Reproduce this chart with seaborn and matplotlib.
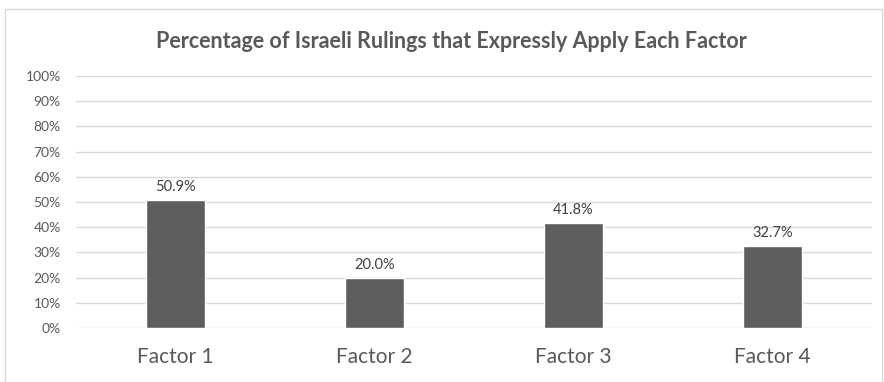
import matplotlib
matplotlib.use("Agg")
import matplotlib.pyplot as plt
from matplotlib.patches import Rectangle
from matplotlib.ticker import PercentFormatter
import seaborn as sns
import pandas as pd

factors = ["Factor 1", "Factor 2", "Factor 3", "Factor 4"]
percentages = [50.9, 20.0, 41.8, 32.7]
title = "Percentage of Israeli Rulings that Expressly Apply Each Factor"

sns.set_theme(style="white")
plt.rcParams["font.family"] = ["Lato", "DejaVu Sans"]

df = pd.DataFrame({"factor": factors, "pct": percentages})

fig = plt.figure(figsize=(8.84, 3.82), dpi=100)
ax = fig.add_axes([76 / 884, 54 / 382, (872 - 76) / 884, (328 - 76) / 382])

sns.barplot(data=df, x="factor", y="pct", color="#5e5e5e", width=0.3,
            saturation=1, ax=ax, zorder=3)

ax.set_ylim(0, 100)
ax.set_xlim(-0.5, 3.5)
ax.set_yticks(range(0, 101, 10))
ax.yaxis.set_major_formatter(PercentFormatter(decimals=0))
ax.grid(axis="y", color="#d9d9d9", linewidth=1, zorder=0)
ax.grid(axis="x", visible=False)
for s in ax.spines.values():
    s.set_visible(False)
ax.set_xlabel("")
ax.set_ylabel("")
ax.tick_params(axis="y", length=0, pad=11, labelsize=10, labelcolor="#595959")
ax.tick_params(axis="x", length=0, pad=14, labelsize=15, labelcolor="#595959")

for i, v in enumerate(percentages):
    ax.annotate(f"{v:.1f}%", (i, v), xytext=(0, 4), textcoords="offset points",
                ha="center", va="bottom", fontsize=10.5, color="#404040")

fig.text(451 / 884, 1 - 41 / 382, title, ha="center", va="center",
         fontsize=15.5, fontweight="bold", color="#595959")

fig.patches.append(Rectangle((5 / 884, -0.05), (882 - 5) / 884, 0.05 + 1 - 9 / 382,
                             transform=fig.transFigure, fill=False,
                             edgecolor="#d9d9d9", linewidth=1))

fig.savefig("out.png", dpi=100)
